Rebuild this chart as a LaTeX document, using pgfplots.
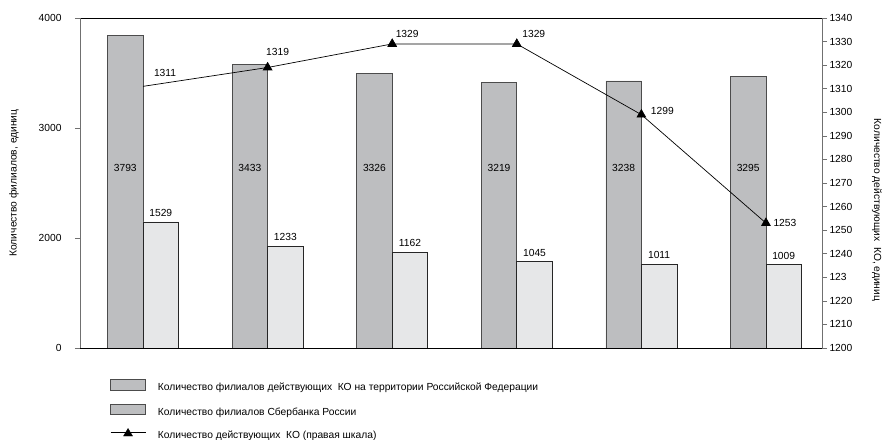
\documentclass[border=0pt]{standalone}
\usepackage{pgfplots}
\pgfplotsset{compat=1.18}
\usepackage{fontspec}
\setmainfont{Liberation Sans}

\definecolor{barDark}{HTML}{BDBEC0}
\definecolor{barLight}{HTML}{E6E7E8}
\definecolor{axisGray}{HTML}{707070}

% branches of credit organisations (left scale)
\pgfplotstableread{
x total sber
0 3793 1529
1 3433 1233
2 3326 1162
3 3219 1045
4 3238 1011
5 3295 1009
}\branches

% number of credit organisations (right scale)
\pgfplotstableread{
x ko
0 1311
1 1319
2 1329
3 1329
4 1299
5 1253
}\koTable

\begin{document}
\begin{tikzpicture}[font=\fontsize{10.3}{12}\selectfont]
\useasboundingbox (0,0) rectangle (886bp,440bp);
\pgfplotsset{
  common/.style={
    scale only axis, width=742bp, height=330bp,
    at={(80bp,92bp)}, anchor=south west,
    xmin=-0.506, xmax=5.45,
    /pgf/number format/assume math mode=true,
    /pgf/number format/1000 sep={},
    tick label style={font=\fontsize{10.3}{12}\selectfont},
    major tick length=5bp, tick align=outside,
    tick style={axisGray, line width=0.5pt},
  }
}
\begin{axis}[common,
  ymin=0, ymax=4000,
  separate axis lines,
  x axis line style={black, line width=0.6pt},
  y axis line style={axisGray, line width=0.6pt},
  xtick=\empty, ytick pos=left,
  ytick={0,1333.333,2666.667,4000},
  yticklabels={0,2000,3000,4000},
  yticklabel style={xshift=-10bp},
  ylabel={Количество филиалов, единиц},
  every axis y label/.style={at={(axis description cs:-0.089,0.5)}, rotate=90, anchor=center},
  legend style={at={(axis description cs:0.0404,-0.094)}, anchor=north west,
    draw=none, fill=none, inner sep=0pt, row sep=11bp,
    nodes={inner sep=0pt, text height=7.5bp, text depth=2bp},
    /tikz/every odd column/.append style={column sep=12bp}},
  legend cell align=left,
]
\addplot[ybar, bar width=35.5bp, bar shift=-17.75bp, fill=barDark, draw=black!70, line width=0.6pt, forget plot]
  table[x=x, y=total]{\branches};
\addplot[ybar, bar width=35.5bp, bar shift=17.75bp, fill=barLight, draw=black!85, line width=0.6pt, forget plot,
  nodes near coords, every node near coord/.append style={xshift=17.75bp, yshift=2bp, font=\fontsize{10.3}{12}\selectfont}]
  table[x=x, y=sber]{\branches};

% value labels inside the dark bars
\node[anchor=center] at (axis cs:0,2182) [xshift=-17.75bp] {3793};
\node[anchor=center] at (axis cs:1,2182) [xshift=-17.75bp] {3433};
\node[anchor=center] at (axis cs:2,2182) [xshift=-17.75bp] {3326};
\node[anchor=center] at (axis cs:3,2182) [xshift=-17.75bp] {3219};
\node[anchor=center] at (axis cs:4,2182) [xshift=-17.75bp] {3238};
\node[anchor=center] at (axis cs:5,2182) [xshift=-17.75bp] {3295};

\addlegendimage{legend image code/.code={\draw[fill=barDark, draw=black!70, line width=0.6pt] (0bp,-2bp) rectangle (35bp,8.5bp);}}
\addlegendentry{Количество филиалов действующих\ \ КО на территории Российской Федерации}
\addlegendimage{legend image code/.code={\draw[fill=barDark, draw=black!70, line width=0.6pt] (0bp,-2bp) rectangle (35bp,8.5bp);}}
\addlegendentry{Количество филиалов Сбербанка России}
\addlegendimage{legend image code/.code={\draw[black, line width=0.7pt] (0bp,3.5bp) -- (35bp,3.5bp); \fill[black] (13bp,0bp) -- (22bp,0bp) -- (17.5bp,7.5bp) -- cycle;}}
\addlegendentry{Количество действующих\ \ КО (правая шкала)}
\end{axis}

\begin{axis}[common,
  ymin=1200, ymax=1340,
  axis x line=none, axis y line*=right,
  y axis line style={axisGray, line width=0.6pt},
  ytick={1200,1210,...,1340},
  yticklabels={1200,1210,1220,123,1240,1250,1260,1270,1280,1290,1300,1310,1320,1330,1340},
  yticklabel style={xshift=-1bp},
  ylabel={Количество действующих\ \ КО, единиц},
  every axis y label/.style={at={(axis description cs:1.0741,0.418)}, rotate=-90, anchor=center},
]
\addplot[black, line width=0.7pt, mark=triangle*, mark size=5bp, mark indices={2,3,4,5,6},
  mark options={solid, fill=black}]
  table[x=x, y=ko]{\koTable};
\node at (axis cs:0,1311) [xshift=22bp, yshift=13bp] {1311};
\node at (axis cs:1,1319) [xshift=10bp, yshift=16bp] {1319};
\node at (axis cs:2,1329) [xshift=15bp, yshift=10bp] {1329};
\node at (axis cs:3,1329) [xshift=17bp, yshift=10bp] {1329};
\node at (axis cs:4,1299) [xshift=21bp, yshift=4bp] {1299};
\node at (axis cs:5,1253) [xshift=19bp, yshift=0bp] {1253};
\end{axis}
\end{tikzpicture}
\end{document}
